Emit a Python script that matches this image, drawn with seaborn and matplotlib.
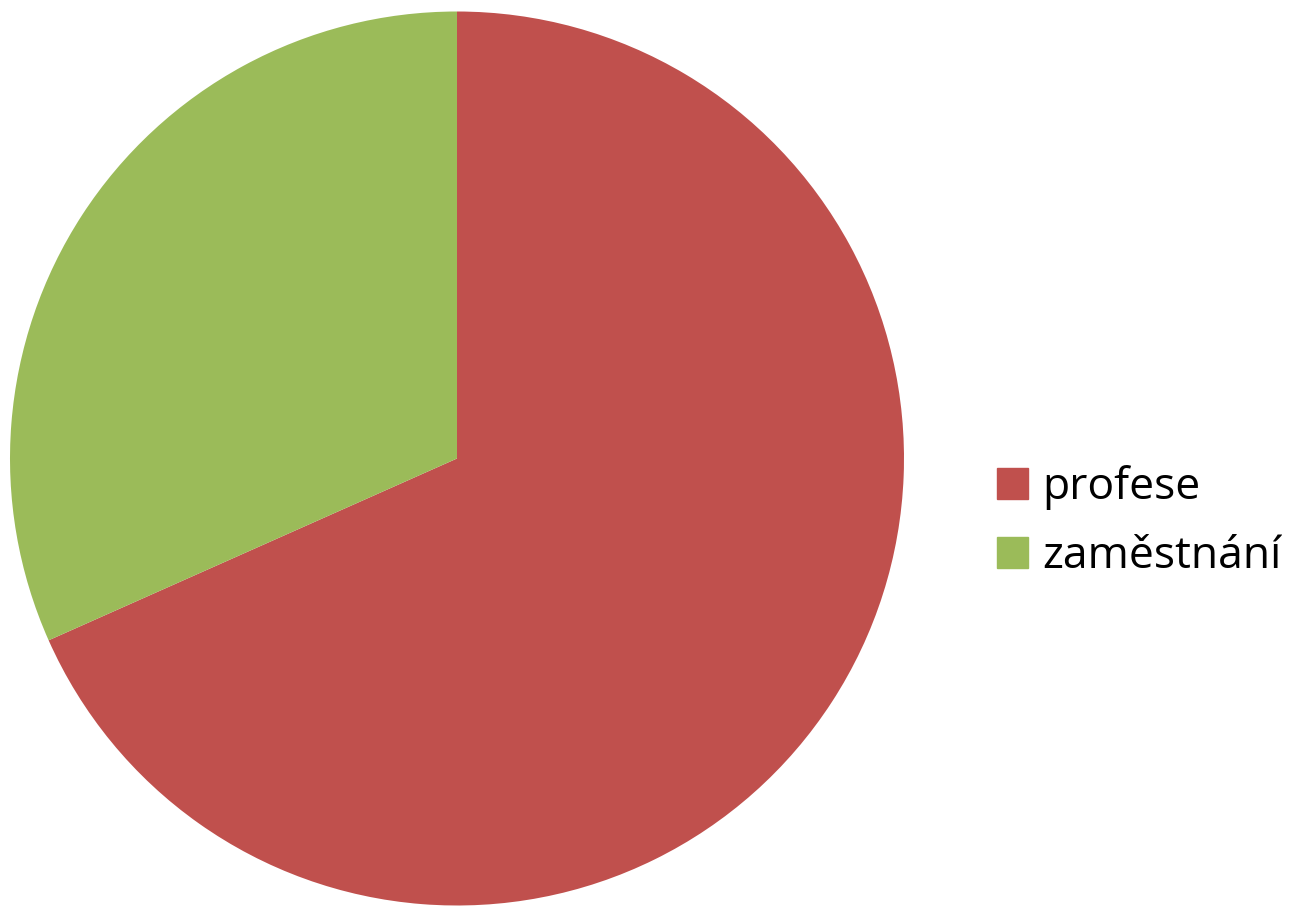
import matplotlib
matplotlib.use("Agg")
import matplotlib.pyplot as plt
import matplotlib.patches as mpatches
import seaborn as sns

labels = ["profese", "zaměstnání"]
values = [41, 19]
colors = ["#C0504D", "#9BBB59"]

sns.set_theme(style="white")
plt.rcParams['font.family'] = ['Open Sans', 'DejaVu Sans']

fig = plt.figure(figsize=(12.99, 9.07), dpi=100)
fig.patch.set_facecolor("white")

# pie fills the left part of the canvas
ax = fig.add_axes([10 / 1299, 1 / 907, 894 / 1299, 895 / 907])
ax.pie(values, colors=colors, startangle=90, counterclock=False,
       radius=1.0, wedgeprops=dict(linewidth=0))
ax.set_xlim(-1, 1)
ax.set_ylim(-1, 1)
ax.set_aspect("equal")
ax.axis("off")

handles = [mpatches.Patch(color=c, label=l) for c, l in zip(colors, labels)]
leg = fig.legend(handles=handles, loc="center left",
                 bbox_to_anchor=(997 / 1299, 1 - 522 / 907),
                 frameon=False, fontsize=32, handlelength=0.70, handleheight=0.70,
                 handletextpad=0.32, labelspacing=0.54, borderpad=0, borderaxespad=0)
for t in leg.get_texts():
    t.set_color("black")

fig.savefig("out.png", dpi=100)
